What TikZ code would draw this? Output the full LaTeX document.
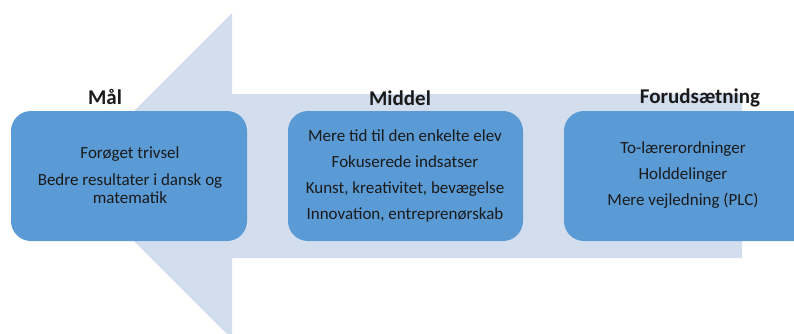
\documentclass[tikz,border=0pt]{standalone}
\usepackage{fontspec}
\setmainfont{Carlito}
\definecolor{arrowfill}{HTML}{D2DDED}
\definecolor{boxfill}{HTML}{5B9BD5}
\definecolor{txt}{HTML}{1A1A1A}
\begin{document}
\begin{tikzpicture}[x=1pt,y=-1pt,
  box/.style={fill=boxfill, rounded corners=20pt, draw=none},
  title/.style={font=\bfseries\fontsize{21}{24}\selectfont, text=txt},
  body/.style={font=\fontsize{17}{20}\selectfont, text=txt, align=center}]
\useasboundingbox (0,0) rectangle (794,333);
% big arrow
\fill[arrowfill] (742,94) -- (232,94) -- (232,13) -- (69,176) -- (232,339) -- (232,258) -- (742,258) -- cycle;
% boxes
\path[box] (11,111) rectangle (247,241);
\path[box] (288,111) rectangle (523,241);
\path[box] (564,111) rectangle (814,241);
% titles
\node[title] (t1) at (105,97) {Mål};
\node[title] (t2) at (400,98) {Middel};
\node[title] (t3) at (700,98) {Forudsætning};
% texts
\node[body] (b1) at (130,175) {Forøget trivsel\\[7pt]Bedre resultater i dansk og\\[-2pt]matematik};
\node[body] (b2) at (405,176) {Mere tid til den enkelte elev\\[6pt]Fokuserede indsatser\\[6pt]Kunst, kreativitet, bevægelse\\[6pt]Innovation, entreprenørskab};
\node[body] (b3) at (683,175) {To-lærerordninger\\[6pt]Holddelinger\\[6pt]Mere vejledning (PLC)};
\end{tikzpicture}
\end{document}
